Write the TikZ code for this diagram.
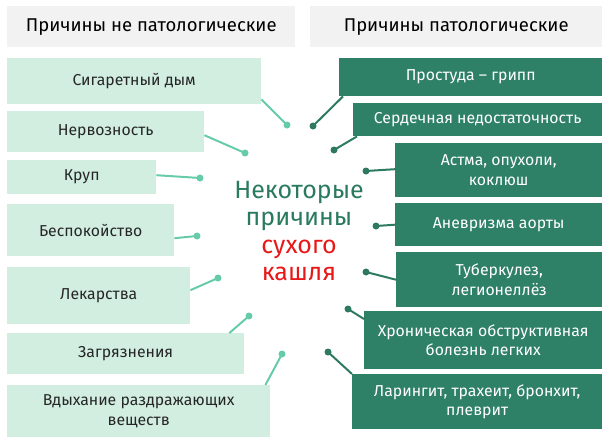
\documentclass[tikz,border=0pt]{standalone}
\usepackage{fontspec}
\setmainfont{Fira Sans}
\definecolor{hdr}{HTML}{F2F2F2}
\definecolor{lbox}{HTML}{D2EEE1}
\definecolor{dbox}{HTML}{2E8066}
\definecolor{lline}{HTML}{66CCA8}
\definecolor{dline}{HTML}{2E7A60}
\definecolor{ctgreen}{HTML}{2A7A5E}
\definecolor{ctred}{HTML}{E81818}
\begin{document}
\begin{tikzpicture}[x=1pt,y=-1pt,
  hdrbox/.style={fill=hdr,draw=none,anchor=north west,inner sep=0pt,font=\fontsize{18.5}{22}\selectfont},
  lightbox/.style={fill=lbox,draw=none,anchor=north west,inner sep=0pt,align=center,font=\fontsize{15.8}{19.5}\selectfont,text=black!85},
  darkbox/.style={fill=dbox,draw=none,anchor=north west,inner sep=0pt,align=center,font=\fontsize{15.8}{19.5}\selectfont,text=white},
  ldot/.style={circle,fill=lline,inner sep=0pt,minimum size=7pt},
  ddot/.style={circle,fill=dline,inner sep=0pt,minimum size=7pt},
  lconn/.style={draw=lline,line width=2pt},
  dconn/.style={draw=dline,line width=2pt}]
\useasboundingbox (0,0) rectangle (611,445);
% headers
\node[hdrbox,minimum width=288pt,minimum height=41pt] (h1) at (7,6) {Причины не патологические};
\node[hdrbox,minimum width=292pt,minimum height=41pt] (h2) at (310,6) {Причины патологические};
% left boxes
\node[lightbox,minimum width=254pt,minimum height=46pt] (b1) at (7,58) {Сигаретный дым};
\node[lightbox,minimum width=197pt,minimum height=41pt] (b2) at (7,111) {Нервозность};
\node[lightbox,minimum width=149pt,minimum height=34pt] (b3) at (7,160) {Круп};
\node[lightbox,minimum width=167pt,minimum height=52pt] (b4) at (7,204) {Беспокойство};
\node[lightbox,minimum width=183pt,minimum height=57pt] (b5) at (7,267) {Лекарства};
\node[lightbox,minimum width=237pt,minimum height=41pt] (b6) at (7,333) {Загрязнения};
\node[lightbox,minimum width=263pt,minimum height=52pt] (b7) at (7,385) {Вдыхание раздражающих\\веществ};
% right boxes
\node[darkbox,minimum width=263pt,minimum height=38pt] (r1) at (339,58) {Простуда – грипп};
\node[darkbox,minimum width=249pt,minimum height=33pt] (r2) at (353,103) {Сердечная недостаточность};
\node[darkbox,minimum width=207pt,minimum height=54pt] (r3) at (395,143) {Астма, опухоли,\\коклюш};
\node[darkbox,minimum width=207pt,minimum height=43pt] (r4) at (395,203) {Аневризма аорты};
\node[darkbox,minimum width=206pt,minimum height=55pt] (r5) at (396,252) {Туберкулез,\\легионеллёз};
\node[darkbox,minimum width=238pt,minimum height=58pt] (r6) at (364,311) {Хроническая обструктивная\\болезнь легких};
\node[darkbox,minimum width=250pt,minimum height=55pt] (r7) at (352,374) {Ларингит, трахеит, бронхит,\\плеврит};
% center
\node[align=center,font=\fontsize{25}{27.5}\selectfont] (c) at (299,231)
  {\textcolor{ctgreen}{Некоторые}\\\textcolor{ctgreen}{причины}\\\textcolor{ctred}{сухого}\\\textcolor{ctred}{кашля}};
% left dots
\node[ldot] (d1) at (287,125) {};
\node[ldot] (d2) at (245,153) {};
\node[ldot] (d3) at (200,178) {};
\node[ldot] (d4) at (197,236) {};
\node[ldot] (d5) at (218,278) {};
\node[ldot] (d6) at (249,316) {};
\node[ldot] (d7) at (282,354) {};
% right dots
\node[ddot] (e1) at (313,126) {};
\node[ddot] (e2) at (334,150) {};
\node[ddot] (e3) at (366,171) {};
\node[ddot] (e4) at (376,226) {};
\node[ddot] (e5) at (366,272) {};
\node[ddot] (e6) at (348,309) {};
\node[ddot] (e7) at (328,352) {};
% left connectors
\draw[lconn] ([yshift=5pt]b1.south east) -- (d1.center);
\draw[lconn] ([yshift=-3.5pt]b2.east) -- (d2.center);
\draw[lconn] ([yshift=2pt]b3.east) -- (d3.center);
\draw[lconn] ([yshift=-8pt]b4.east) -- (d4.center);
\draw[lconn] ([yshift=5.5pt]b5.east) -- (d5.center);
\draw[lconn] ([xshift=-15pt]b6.north east) -- (d6.center);
\draw[lconn] ([xshift=-5pt]b7.north east) -- (d7.center);
% right connectors
\draw[dconn] ([xshift=4pt]r1.south west) -- (e1.center);
\draw[dconn] ([xshift=4pt]r2.south west) -- (e2.center);
\draw[dconn] ([yshift=1pt]r3.west) -- (e3.center);
\draw[dconn] (r4.west) -- (e4.center);
\draw[dconn] (r5.west) -- (e5.center);
\draw[dconn] ([yshift=-8pt]r6.north west) -- (e6.center);
\draw[dconn] (r7.north west) -- (e7.center);
\end{tikzpicture}
\end{document}
